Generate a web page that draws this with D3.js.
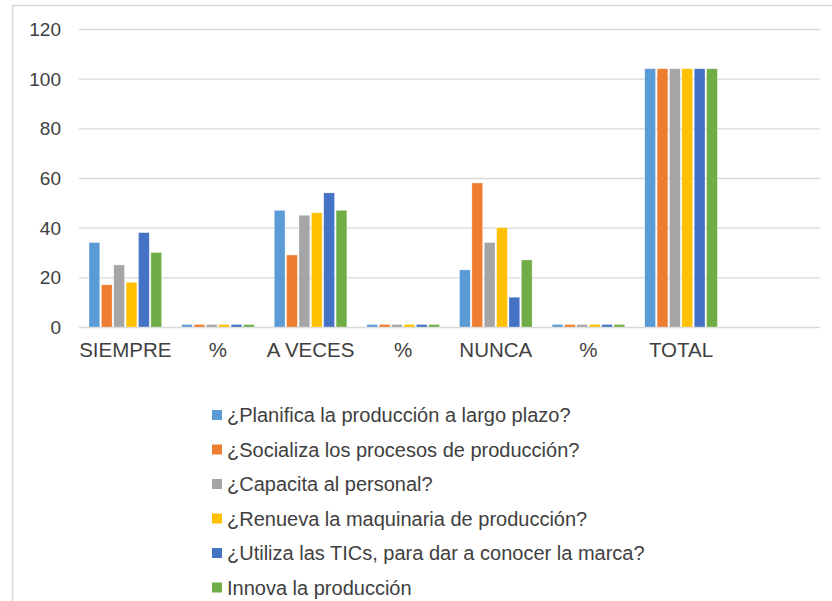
<!DOCTYPE html>
<html>
<head>
<meta charset="utf-8">
<script src="https://cdn.jsdelivr.net/npm/d3@7"></script>
<style>
  body { margin: 0; background: #fff; }
  svg { display: block; }
  text { font-family: "Liberation Sans", Arial, sans-serif; fill: #404040; }
</style>
</head>
<body>
<div id="chart-area"></div>
<script>
// categorias del eje x (la ultima vacia, como en la hoja original)
var categorias = ["SIEMPRE", "%", "A VECES", "%", "NUNCA", "%", "TOTAL", ""];

var series = [
  "¿Planifica la producción a largo plazo?",
  "¿Socializa los procesos de producción?",
  "¿Capacita al personal?",
  "¿Renueva la maquinaria de producción?",
  "¿Utiliza las TICs, para dar a conocer la marca?",
  "Innova la producción"
];

var colores = ["#5B9BD5", "#ED7D31", "#A5A5A5", "#FFC000", "#4472C4", "#70AD47"];

// un array por pregunta, un valor por categoria
var planifica  = [34, 1, 47, 1, 23, 1, 104, null];
var socializa  = [17, 1, 29, 1, 58, 1, 104, null];
var capacita   = [25, 1, 45, 1, 34, 1, 104, null];
var renueva    = [18, 1, 46, 1, 40, 1, 104, null];
var utilizaTic = [38, 1, 54, 1, 12, 1, 104, null];
var innova     = [30, 1, 47, 1, 27, 1, 104, null];

var yTicks = [0, 20, 40, 60, 80, 100, 120];

var valores = [planifica, socializa, capacita, renueva, utilizaTic, innova];

var width = 832, height = 601;

var svg = d3.select("#chart-area")
  .append("svg")
    .attr("width", width)
    .attr("height", height);

// marco del grafico
svg.append("rect")
  .attr("x", 12.5).attr("y", 5.5)
  .attr("width", 840).attr("height", 620)
  .attr("fill", "none")
  .attr("stroke", "#d9d9d9")
  .attr("stroke-width", 1.5);

var x0 = d3.scaleBand()
  .domain(d3.range(categorias.length))
  .range([79, 820]);

var x1 = d3.scaleBand()
  .domain(d3.range(series.length))
  .range([10, x0.bandwidth() - 10])
  .paddingInner(0.13);

var y = d3.scaleLinear()
  .domain([0, 120])
  .range([327, 29]);

// lineas de division
svg.append("g")
  .selectAll("line")
  .data(yTicks)
  .join("line")
    .attr("x1", 79).attr("x2", 820)
    .attr("y1", d => y(d) + 0.5).attr("y2", d => y(d) + 0.5)
    .attr("stroke", "#d9d9d9")
    .attr("stroke-width", 1.3);

// etiquetas eje y
svg.append("g")
  .selectAll("text")
  .data(yTicks)
  .join("text")
    .attr("x", 61)
    .attr("y", d => y(d))
    .attr("dy", "0.36em")
    .attr("text-anchor", "end")
    .style("font-size", "19px")
    .text(d => d);

// barras
var grupos = svg.append("g")
  .selectAll("g")
  .data(categorias)
  .join("g")
    .attr("transform", (d, i) => "translate(" + x0(i) + ",0)");

grupos.selectAll("rect")
  .data((d, i) => valores.map((v, s) => ({ s: s, v: v[i] })).filter(d => d.v != null))
  .join("rect")
    .attr("x", d => x1(d.s))
    .attr("width", x1.bandwidth())
    .attr("y", d => y(d.v))
    .attr("height", d => y(0) - y(d.v))
    .attr("fill", d => colores[d.s])
    .attr("stroke", "#fff")
    .attr("stroke-opacity", 0.5)
    .attr("stroke-width", 0.6);

// etiquetas eje x
svg.append("g")
  .selectAll("text")
  .data(categorias)
  .join("text")
    .attr("x", (d, i) => x0(i) + x0.bandwidth() / 2)
    .attr("y", 357)
    .attr("text-anchor", "middle")
    .style("font-size", "20.5px")
    .text(d => d);

// leyenda
var leyenda = svg.append("g")
  .selectAll("g")
  .data(series)
  .join("g")
    .attr("transform", (d, i) => "translate(212," + (415 + i * 34.5) + ")");

leyenda.append("rect")
  .attr("x", 0).attr("y", -5)
  .attr("width", 10).attr("height", 10)
  .attr("fill", (d, i) => colores[i]);

leyenda.append("text")
  .attr("x", 15)
  .attr("dy", "0.36em")
  .style("font-size", "20px")
  .text(d => d);
</script>
</body>
</html>
